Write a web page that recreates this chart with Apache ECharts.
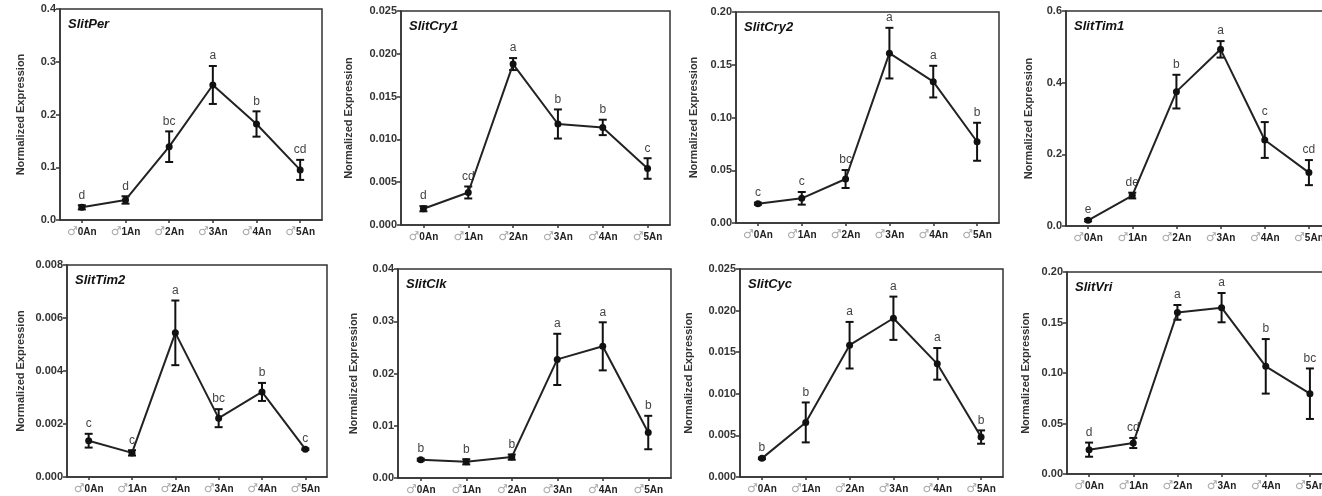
<!DOCTYPE html>
<html><head><meta charset="utf-8">
<script src="https://cdn.jsdelivr.net/npm/echarts@6/dist/echarts.min.js"></script>
<style>html,body{margin:0;padding:0;background:#fff}#c{width:1322px;height:496px}</style>
</head><body><div id="c"></div>
<script>
// ---------- data ----------
const categories = ['0An','1An','2An','3An','4An','5An'];
const geneNames = ['SlitPer','SlitCry1','SlitCry2','SlitTim1','SlitTim2','SlitClk','SlitCyc','SlitVri'];

const perMean = [0.024,0.038,0.139,0.256,0.182,0.095];
const perErr  = [0.004,0.007,0.029,0.036,0.024,0.019];
const perLetters = ['d','d','bc','a','b','cd'];

const cry1Mean = [0.0019,0.0038,0.0188,0.0118,0.0114,0.0066];
const cry1Err  = [0.0003,0.0007,0.0007,0.0017,0.0009,0.0012];
const cry1Letters = ['d','cd','a','b','b','c'];

const cry2Mean = [0.0183,0.0234,0.0417,0.161,0.134,0.077];
const cry2Err  = [0.001,0.006,0.0085,0.024,0.015,0.018];
const cry2Letters = ['c','c','bc','a','a','b'];

const tim1Mean = [0.016,0.085,0.375,0.493,0.240,0.149];
const tim1Err  = [0.003,0.008,0.047,0.023,0.050,0.035];
const tim1Letters = ['e','de','b','a','c','cd'];

const tim2Mean = [0.00137,0.00091,0.00544,0.00222,0.00321,0.00105];
const tim2Err  = [0.00026,0.0001,0.00122,0.00034,0.00034,0.00003];
const tim2Letters = ['c','c','a','bc','b','c'];

const clkMean = [0.0035,0.0031,0.0040,0.0227,0.0252,0.0087];
const clkErr  = [0.0002,0.0005,0.0005,0.0049,0.0046,0.0032];
const clkLetters = ['b','b','b','a','a','b'];

const cycMean = [0.00224,0.00656,0.01584,0.01908,0.0136,0.0048];
const cycErr  = [0.0001,0.0024,0.0028,0.0026,0.0019,0.0008];
const cycLetters = ['b','b','a','a','a','b'];

const vriMean = [0.0241,0.0307,0.160,0.1647,0.1066,0.0795];
const vriErr  = [0.007,0.005,0.0073,0.0145,0.027,0.025];
const vriLetters = ['d','cd','a','a','b','bc'];

const yMax      = [0.4,0.025,0.20,0.6,0.008,0.04,0.025,0.20];
const yInterval = [0.1,0.005,0.05,0.2,0.002,0.01,0.005,0.05];
const yDecimals = [1,3,2,1,3,2,3,2];

const allMeans = [perMean,cry1Mean,cry2Mean,tim1Mean,tim2Mean,clkMean,cycMean,vriMean];
const allErrs = [perErr,cry1Err,cry2Err,tim1Err,tim2Err,clkErr,cycErr,vriErr];
const allLetters = [perLetters,cry1Letters,cry2Letters,tim1Letters,tim2Letters,clkLetters,cycLetters,vriLetters];

// ---------- layout ----------
const layout = [
  {left:60,  top:9,   width:262, height:211, gap:34},
  {left:401, top:11,  width:269, height:214, gap:47},
  {left:736, top:12,  width:263, height:211, gap:37},
  {left:1066,top:11,  width:265, height:215, gap:32},
  {left:67,  top:265, width:260, height:212, gap:41},
  {left:398, top:269, width:273, height:209, gap:39},
  {left:740, top:269, width:263, height:208, gap:46},
  {left:1067,top:272, width:265, height:202, gap:36}
];

const FONT = '"Liberation Sans", Arial, sans-serif';
const AX = '#333';

const grids = [], xAxes = [], yAxes = [], titles = [], series = [];
layout.forEach((g, i) => {
  grids.push({left:g.left, top:g.top, width:g.width, height:g.height, show:true,
    borderColor:AX, borderWidth:1.5, backgroundColor:'transparent', containLabel:false, outerBoundsMode:'none'});
  xAxes.push({type:'category', gridIndex:i, data:categories, boundaryGap:true,
    axisLine:{show:true, lineStyle:{color:AX, width:1.5}},
    axisTick:{show:true, alignWithLabel:true, length:3, lineStyle:{color:AX, width:1.5}},
    splitLine:{show:false},
    axisLabel:{margin:6, interval:0, formatter: v => '{m|\u2642}{t|' + v + '}',
      rich:{m:{color:'#aaa', fontSize:12, fontFamily:'"DejaVu Sans", sans-serif'}, t:{color:'#222', fontSize:10, fontWeight:'bold', fontFamily:FONT}}}});
  yAxes.push({type:'value', gridIndex:i, min:0, max:yMax[i], interval:yInterval[i],
    name:'Normalized Expression', nameLocation:'middle', nameGap:g.gap, nameRotate:90,
    nameTextStyle:{fontSize:11, fontWeight:'bold', color:'#333', fontFamily:FONT},
    axisLine:{show:true, lineStyle:{color:AX, width:1.5}},
    axisTick:{show:true, length:4, lineStyle:{color:AX, width:1.5}},
    splitLine:{show:false},
    axisLabel:{margin:4, fontSize:11, fontWeight:'bold', color:'#333', fontFamily:FONT,
      formatter: v => v.toFixed(yDecimals[i])}});
  titles.push({text:geneNames[i], left:g.left + 8, top:g.top + 9, padding:0,
    textStyle:{fontSize:13, fontWeight:'bold', fontStyle:'italic', color:'#111', fontFamily:FONT}});
  const letters = allLetters[i];
  const errData = allMeans[i].map((m, k) => [k, m - allErrs[i][k], m + allErrs[i][k]]);
  series.push({type:'custom', xAxisIndex:i, yAxisIndex:i, z:2, data:errData,
    renderItem: function(params, api){
      const x = api.value(0);
      const pLo = api.coord([x, api.value(1)]);
      const pHi = api.coord([x, api.value(2)]);
      const cap = 4;
      const st = {stroke:'#111', lineWidth:2};
      return {type:'group', children:[
        {type:'line', shape:{x1:pLo[0], y1:pLo[1], x2:pHi[0], y2:pHi[1]}, style:st},
        {type:'line', shape:{x1:pLo[0]-cap, y1:pLo[1], x2:pLo[0]+cap, y2:pLo[1]}, style:st},
        {type:'line', shape:{x1:pHi[0]-cap, y1:pHi[1], x2:pHi[0]+cap, y2:pHi[1]}, style:st},
        {type:'text', style:{text:letters[params.dataIndex], x:pHi[0], y:pHi[1]-4,
          align:'center', verticalAlign:'bottom', fill:'#444', fontSize:12, fontFamily:FONT}}
      ]};
    }});
  series.push({type:'line', xAxisIndex:i, yAxisIndex:i, z:3, data:allMeans[i],
    symbol:'circle', symbolSize:7, showSymbol:true, animation:false,
    itemStyle:{color:'#111'}, lineStyle:{color:'#222', width:2}});
});

const chart = echarts.init(document.getElementById('c'), null, {renderer:'canvas'});
chart.setOption({animation:false, backgroundColor:'#fff', title:titles, grid:grids, xAxis:xAxes, yAxis:yAxes, series:series, tooltip:{show:false}});
</script></body></html>
